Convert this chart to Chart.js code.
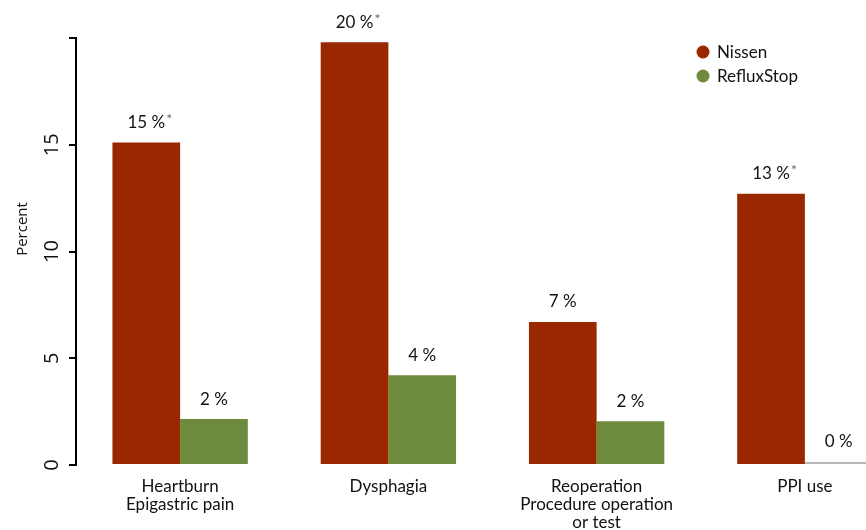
<!DOCTYPE html>
<html>
<head>
<meta charset="utf-8">
<script src="https://cdn.jsdelivr.net/npm/chart.js@4"></script>
<style>
  html, body { margin: 0; padding: 0; background: #fff; overflow: hidden; }
  canvas { display: block; }
</style>
</head>
<body>
<canvas id="barChart" width="930" height="530"></canvas>
<script>
// DATA
const categories = [
  ['Heartburn', 'Epigastric pain'],
  'Dysphagia',
  ['Reoperation', 'Procedure operation', 'or test'],
  'PPI use'
];
const nissen = [15.1, 19.8, 6.7, 12.7];
const refluxStop = [2.15, 4.2, 2.05, 0];
// significance marks (asterisk) shown after the Nissen labels
const nissenSig = [true, true, false, true];
const refluxSig = [false, false, false, false];
const yTicks = [0, 5, 10, 15, 20];
const yTickLabels = ['0', '5', '10', '15', ''];

const RED = '#992700';
const GREEN = '#6E8B3D';
const LABEL_FONT = '17px Lato';

// value labels above bars + asterisks
const valueLabels = {
  id: 'valueLabels',
  afterDatasetsDraw(chart) {
    const ctx = chart.ctx;
    const sigs = [nissenSig, refluxSig];
    ctx.save();
    chart.data.datasets.forEach((ds, di) => {
      chart.getDatasetMeta(di).data.forEach((bar, i) => {
        const txt = Math.round(ds.data[i]) + ' %';
        const y = bar.y - 20;
        ctx.font = LABEL_FONT;
        ctx.fillStyle = '#111';
        ctx.textAlign = 'center';
        ctx.textBaseline = 'middle';
        ctx.fillText(txt, bar.x, y);
        if (sigs[di][i]) {
          const w = ctx.measureText(txt).width;
          ctx.font = '14px Lato';
          ctx.fillStyle = '#666';
          ctx.textAlign = 'left';
          ctx.fillText('*', bar.x + w / 2 + 1, y - 3);
        }
      });
    });
    ctx.restore();
  }
};

// rotated y tick labels, y title and legend
const decorations = {
  id: 'decorations',
  afterDraw(chart) {
    const ctx = chart.ctx;
    const yScale = chart.scales.y;
    ctx.save();
    ctx.fillStyle = '#111';
    ctx.textAlign = 'center';
    ctx.textBaseline = 'middle';
    ctx.font = '20px "Open Sans"';
    yTicks.forEach((v, i) => {
      const py = yScale.getPixelForValue(v);
      ctx.save();
      ctx.translate(52, py);
      ctx.rotate(-Math.PI / 2);
      ctx.fillText(yTickLabels[i], 0, 0);
      ctx.restore();
    });
    ctx.save();
    ctx.font = '15px "Open Sans"';
    ctx.translate(23, 229);
    ctx.rotate(-Math.PI / 2);
    ctx.fillText('Percent', 0, 0);
    ctx.restore();

    // legend
    chart.data.datasets.forEach((ds, i) => {
      const ly = 52 + i * 24;
      ctx.beginPath();
      ctx.arc(703, ly, 6.5, 0, Math.PI * 2);
      ctx.fillStyle = ds.backgroundColor === RED ? RED : GREEN;
      ctx.fill();
      ctx.fillStyle = '#111';
      ctx.font = LABEL_FONT;
      ctx.textAlign = 'left';
      ctx.fillText(ds.label, 717, ly + 1);
    });
    ctx.restore();
  }
};

const ctx = document.getElementById('barChart').getContext('2d');
const chart = new Chart(ctx, {
  type: 'bar',
  data: {
    labels: categories,
    datasets: [
      {
        label: 'Nissen',
        data: nissen,
        backgroundColor: RED
      },
      {
        label: 'RefluxStop',
        data: refluxStop,
        backgroundColor: c => (c.raw === 0 ? '#b8b8b8' : GREEN),
        minBarLength: 3
      }
    ]
  },
  options: {
    responsive: false,
    animation: false,
    devicePixelRatio: 1,
    layout: { padding: { top: 38, right: 21, left: 0, bottom: 0 } },
    datasets: {
      bar: { categoryPercentage: 0.65, barPercentage: 1.0, borderWidth: 0 }
    },
    plugins: {
      legend: { display: false },
      tooltip: { enabled: false }
    },
    scales: {
      x: {
        grid: { display: false, drawTicks: false },
        border: { display: false },
        ticks: {
          color: '#111',
          font: { family: 'Lato', size: 17, lineHeight: 1.08 },
          padding: 12,
          maxRotation: 0,
          autoSkip: false
        },
        afterFit(scale) { scale.height = 65; }
      },
      y: {
        min: 0,
        max: 20,
        afterBuildTicks(scale) { scale.ticks = yTicks.map(v => ({ value: v })); },
        ticks: { display: false },
        grid: {
          drawOnChartArea: false,
          drawTicks: true,
          tickLength: 7,
          color: '#000',
          lineWidth: 2
        },
        border: { display: true, color: '#000', width: 2 },
        afterFit(scale) { scale.width = 76; }
      }
    }
  },
  plugins: [valueLabels, decorations]
});
</script>
</body>
</html>
